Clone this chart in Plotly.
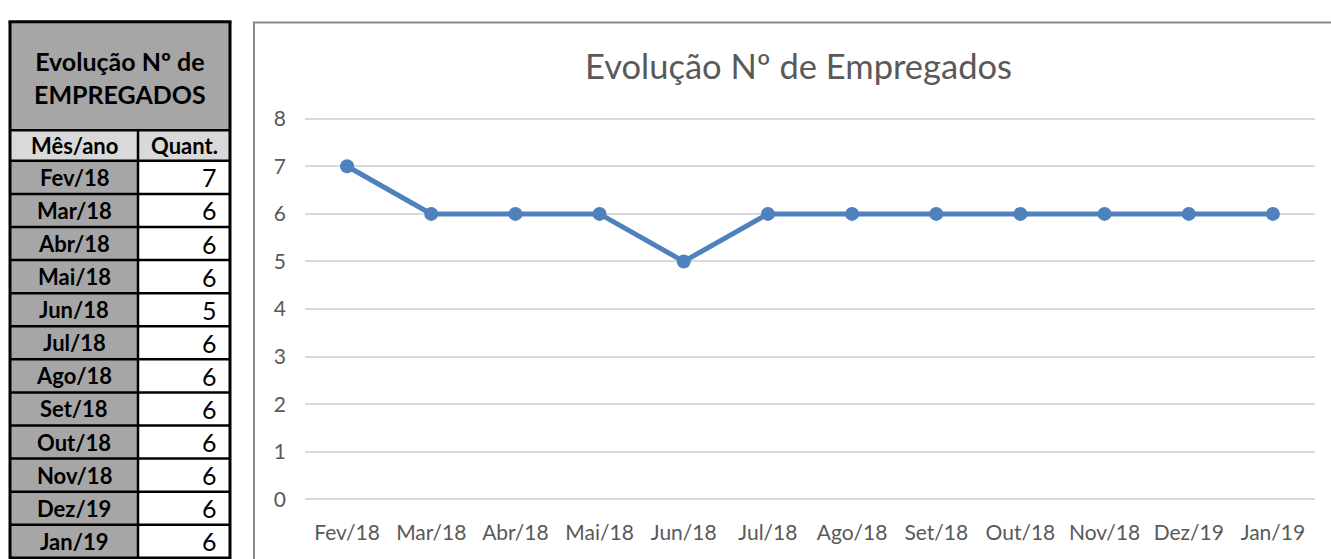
import plotly.graph_objects as go

# ---- data ----
months = ["Fev/18", "Mar/18", "Abr/18", "Mai/18", "Jun/18", "Jul/18",
          "Ago/18", "Set/18", "Out/18", "Nov/18", "Dez/19", "Jan/19"]
employees = [7, 6, 6, 6, 5, 6, 6, 6, 6, 6, 6, 6]
y_ticks = [0, 1, 2, 3, 4, 5, 6, 7, 8]
chart_title = "Evolução Nº de Empregados"
table_title = "Evolução Nº de<br>EMPREGADOS"
table_headers = ["Mês/ano", "Quant."]

# ---- layout helpers (pixel -> paper) ----
W, H = 1331, 559
def px(x):
    return x / W
def py(y):
    return 1 - y / H

FONT = "Lato, 'Open Sans', sans-serif"
BLUE = "#4F81BD"
GRID = "#D9D9D9"
TXT = "#595959"

# plot area in pixels
PL, PR = 305, 1315
Y0PX, Y8PX = 504.0, 112.7
unit = (Y0PX - Y8PX) / 8
ylo, yhi = -0.1, 8.1
dom_bot = Y0PX - (ylo - 0) * unit
dom_top = Y8PX - (yhi - 8) * unit

fig = go.Figure()
fig.add_trace(go.Scatter(
    x=months, y=employees, mode="lines+markers",
    line=dict(color=BLUE, width=5),
    marker=dict(color=BLUE, size=14),
    hoverinfo="x+y", showlegend=False,
))

shapes = []
annotations = []

# chart area border (left and top, extends beyond the picture)
shapes.append(dict(type="line", xref="paper", yref="paper",
                   x0=px(254), x1=px(254), y0=py(13), y1=py(600),
                   line=dict(color="#8A8A8A", width=2)))
shapes.append(dict(type="line", xref="paper", yref="paper",
                   x0=px(253), x1=px(1400), y0=py(14), y1=py(14),
                   line=dict(color="#8A8A8A", width=2)))

# chart title
annotations.append(dict(text=chart_title, xref="paper", yref="paper",
                        x=px(798.5), y=py(58), xanchor="center", yanchor="middle",
                        showarrow=False, font=dict(family=FONT, size=34.5, color=TXT)))

# ---- table ----
TL, TM, TR = 10, 138, 230
T_TOP, T_HEAD, T_ROW0 = 13, 124.5, 156
ROW_H = 34

def rect(x0, x1, y0, y1, fill):
    shapes.append(dict(type="rect", xref="paper", yref="paper",
                       x0=px(x0), x1=px(x1), y0=py(y0), y1=py(y1),
                       fillcolor=fill, line=dict(width=0), layer="below"))

def hline(x0, x1, y, w=2.5):
    shapes.append(dict(type="line", xref="paper", yref="paper",
                       x0=px(x0), x1=px(x1), y0=py(y), y1=py(y),
                       line=dict(color="#000000", width=w)))

def vline(x, y0, y1, w=2.5):
    shapes.append(dict(type="line", xref="paper", yref="paper",
                       x0=px(x), x1=px(x), y0=py(y0), y1=py(y1),
                       line=dict(color="#000000", width=w)))

n = len(months)
t_bottom = T_ROW0 + ROW_H * n
rect(TL, TR, T_TOP, T_HEAD, "#A6A6A6")
rect(TL, TR, T_HEAD, T_ROW0, "#D9D9D9")
rect(TL, TM, T_ROW0, t_bottom, "#A6A6A6")
rect(TM, TR, T_ROW0, t_bottom, "#FFFFFF")

# borders
hline(TL - 1.5, TR + 1.5, T_TOP, 3)
hline(TL, TR, T_HEAD)
for i in range(n + 1):
    hline(TL, TR, T_ROW0 + ROW_H * i)
vline(TL, T_TOP, t_bottom + 5, 3)
vline(TR, T_TOP, t_bottom + 5, 3)
vline(TM, T_HEAD, t_bottom + 5)

annotations.append(dict(text="<b>" + table_title + "</b>", xref="paper", yref="paper",
                        x=px((TL + TR) / 2), y=py(70), xanchor="center",
                        yanchor="middle", showarrow=False,
                        font=dict(family=FONT, size=25, color="#000000")))
for txt, xc in zip(table_headers, [(TL + TM) / 2, (TM + TR) / 2]):
    annotations.append(dict(text="<b>" + txt + "</b>", xref="paper", yref="paper",
                            x=px(xc), y=py((T_HEAD + T_ROW0) / 2), xanchor="center",
                            yanchor="middle", showarrow=False,
                            font=dict(family=FONT, size=22, color="#000000")))
for i, (m, v) in enumerate(zip(months, employees)):
    yc = T_ROW0 + ROW_H * i + ROW_H / 2
    annotations.append(dict(text="<b>" + m + "</b>", xref="paper", yref="paper",
                            x=px((TL + TM) / 2), y=py(yc), xanchor="center",
                            yanchor="middle", showarrow=False,
                            font=dict(family=FONT, size=22, color="#000000")))
    annotations.append(dict(text=str(v), xref="paper", yref="paper",
                            x=px(TR - 11), y=py(yc), xanchor="right",
                            yanchor="middle", showarrow=False,
                            font=dict(family=FONT, size=25, color="#000000")))

fig.update_layout(
    width=W, height=H, autosize=False,
    margin=dict(l=0, r=0, t=0, b=0),
    paper_bgcolor="white", plot_bgcolor="white",
    font=dict(family=FONT, color=TXT),
    shapes=shapes, annotations=annotations,
    xaxis=dict(domain=[px(PL), px(PR)], type="category", range=[-0.5, n - 0.5],
               showgrid=False, zeroline=False, showline=False, ticks="",
               tickfont=dict(family=FONT, size=21, color=TXT),
               ticklabelstandoff=14, fixedrange=True),
    yaxis=dict(domain=[py(dom_bot), py(dom_top)], range=[ylo, yhi],
               tickvals=y_ticks, showgrid=True, gridcolor=GRID, gridwidth=1.5,
               zeroline=False, showline=False, ticks="",
               tickfont=dict(family=FONT, size=21, color=TXT),
               ticklabelstandoff=18, fixedrange=True),
)

fig.write_html(
    "out.html",
    config={"displayModeBar": False},
    post_script="document.body.style.margin='0';document.body.style.overflow='hidden';",
)
